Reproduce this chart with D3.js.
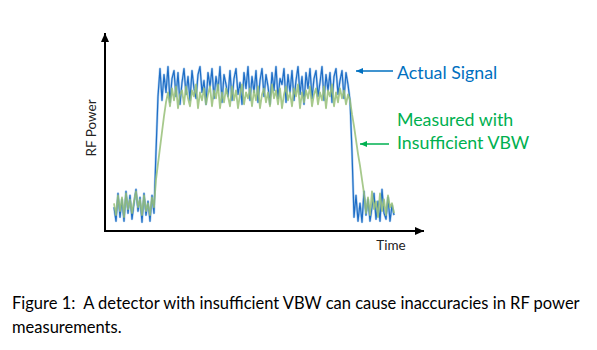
<!DOCTYPE html>
<html>
<head>
<meta charset="utf-8">
<script src="https://cdn.jsdelivr.net/npm/d3@7"></script>
<style>
  html, body { margin: 0; padding: 0; background: #fff; }
  svg { display: block; font-family: Lato, "Open Sans", sans-serif; }
  text { white-space: pre; }
</style>
</head>
<body>
<svg id="chart" width="597" height="350"></svg>
<script>
// RF power trace sampled at equal time steps (arbitrary power units, 0-100)
const actualSignal = [
  12, 5, 19, 7, 16, 5, 20, 9, 18, 6, 14, 21, 10, 17, 4.5, 19, 8, 15, 5, 18, 9,
  40, 68,
  82, 66, 79, 70, 83, 65, 77, 81, 68, 80, 64, 75, 82, 69, 78, 66, 81, 72, 67, 79,
  83, 70, 76, 64, 80, 73, 82, 67, 78, 71, 83, 65, 79, 74, 68, 81, 66, 77, 82, 69,
  75, 64, 80, 72, 83, 66, 78, 70, 81, 65, 76, 82, 68, 79, 73, 64, 80, 71, 83, 67,
  77, 74, 82, 65, 79, 70, 81, 66, 76, 83, 69, 78, 64, 80, 72, 82, 67, 77, 81, 68,
  75, 83, 66, 79, 71, 80, 65, 78, 82, 69, 76, 81, 67, 80, 74,
  66, 40, 7,
  18, 5, 14, 4.5, 20, 8, 16, 5, 12, 19, 6, 15, 5, 21, 9, 6, 17, 5, 13, 8
];

// Same trace as reported by a detector whose video bandwidth is too narrow
const measuredSignal = [
  14, 8, 18, 10, 17, 7, 19, 11, 16, 9, 15, 20, 12, 16, 8, 18, 10, 14, 8, 17, 12,
  26, 34, 42, 50, 58, 65,
  70, 63, 72, 66, 73, 62, 69, 71, 64, 73, 67, 63, 71, 68, 74, 62, 70, 66, 72, 64,
  69, 73, 63, 71, 67, 74, 62, 70, 65, 72, 68, 63, 73, 66, 71, 62, 69, 74, 64, 70,
  67, 72, 63, 71, 66, 73, 62, 69, 72, 65, 70, 63, 74, 67, 71, 64, 72, 62, 69, 73,
  66, 70, 63, 72, 68, 74, 62, 70, 65, 71, 67, 73, 63, 69, 72, 64, 70, 66, 73, 62,
  71, 68, 74, 63, 70, 65, 72, 67, 71, 64, 69,
  66, 59, 53, 46, 39, 33, 26, 19,
  9, 17, 8, 20, 11, 15, 7, 19, 10, 16, 8, 18, 12, 14, 9
];

const axisLabels = { x: "Time", y: "RF Power" };
const legendItems = [
  { lines: ["Actual Signal"], color: "#0070C0" },
  { lines: ["Measured with", "Insufficient VBW"], color: "#00B050" }
];
const captionLines = [
  "Figure 1:  A detector with insufficient VBW can cause inaccuracies in RF power",
  "measurements."
];

const svg = d3.select("#chart");

// Scales: sample index on x, power on y
const x = d3.scaleLinear().domain([-4.5, 155]).range([105, 424]);
const y = d3.scaleLinear().domain([0, 100]).range([231, 33]);

const line = d3.line()
  .x((d, i) => x(i))
  .y(d => y(d))
  .curve(d3.curveLinear);

// Arrowheads
const defs = svg.append("defs");
function marker(id, color, w, h) {
  defs.append("marker")
    .attr("id", id)
    .attr("viewBox", `0 0 ${w} ${h}`)
    .attr("refX", w).attr("refY", h / 2)
    .attr("markerWidth", w).attr("markerHeight", h)
    .attr("markerUnits", "userSpaceOnUse")
    .attr("orient", "auto")
    .append("path")
    .attr("d", `M0,0L${w},${h / 2}L0,${h}Z`)
    .attr("fill", color);
}
marker("axisHead", "#000", 9, 8);
marker("blueHead", "#0070C0", 7, 6);
marker("greenHead", "#00B050", 7, 6);

// Traces: a soft light-blue halo under the actual signal, then the measured one on top
svg.append("path")
  .datum(actualSignal)
  .attr("d", line)
  .attr("fill", "none")
  .attr("stroke", "#7fb2e5")
  .attr("stroke-width", 2.4)
  .attr("stroke-opacity", 0.6)
  .attr("stroke-linejoin", "round");
svg.append("path")
  .datum(actualSignal)
  .attr("d", line)
  .attr("fill", "none")
  .attr("stroke", "#1f6ec6")
  .attr("stroke-width", 1.2)
  .attr("stroke-linejoin", "round");

svg.append("path")
  .datum(measuredSignal)
  .attr("d", line)
  .attr("fill", "none")
  .attr("stroke", "#98c078")
  .attr("stroke-opacity", 0.85)
  .attr("stroke-width", 1.8)
  .attr("stroke-linejoin", "round");

// Axes with arrowheads
const [x0, x1] = x.range();
const [y0, y1] = y.range();
svg.append("line")
  .attr("x1", x0).attr("y1", y0 + 1).attr("x2", x0).attr("y2", y1)
  .attr("stroke", "#000").attr("stroke-width", 2)
  .attr("marker-end", "url(#axisHead)");
svg.append("line")
  .attr("x1", x0 - 1).attr("y1", y0).attr("x2", x1).attr("y2", y0)
  .attr("stroke", "#000").attr("stroke-width", 2)
  .attr("marker-end", "url(#axisHead)");

// Axis titles
svg.append("text")
  .attr("x", 391).attr("y", 250)
  .attr("text-anchor", "middle")
  .attr("font-size", 13.5)
  .attr("fill", "#222")
  .text(axisLabels.x);
svg.append("text")
  .attr("transform", "translate(96,128) rotate(-90)")
  .attr("text-anchor", "middle")
  .attr("font-size", 13.5)
  .attr("fill", "#222")
  .text(axisLabels.y);

// Legend callouts
const callouts = [
  { item: legendItems[0], arrowY: 71, arrowX1: 393, arrowX2: 356, head: "blueHead", textY: 79 },
  { item: legendItems[1], arrowY: 144, arrowX1: 389, arrowX2: 360, head: "greenHead", textY: 126 }
];
callouts.forEach(c => {
  svg.append("line")
    .attr("x1", c.arrowX1).attr("y1", c.arrowY)
    .attr("x2", c.arrowX2).attr("y2", c.arrowY)
    .attr("stroke", c.item.color).attr("stroke-width", 1.5)
    .attr("marker-end", `url(#${c.head})`);
  const t = svg.append("text")
    .attr("x", 397).attr("y", c.textY)
    .attr("font-size", 17.8)
    .attr("fill", c.item.color);
  c.item.lines.forEach((s, i) => {
    t.append("tspan").attr("x", 397).attr("dy", i === 0 ? 0 : 23).text(s);
  });
});

// Caption
const cap = svg.append("text")
  .attr("x", 12).attr("y", 309)
  .attr("font-size", 16.5)
  .attr("fill", "#000");
captionLines.forEach((s, i) => {
  cap.append("tspan").attr("x", 12).attr("dy", i === 0 ? 0 : 23.5).text(s);
});
</script>
</body>
</html>
